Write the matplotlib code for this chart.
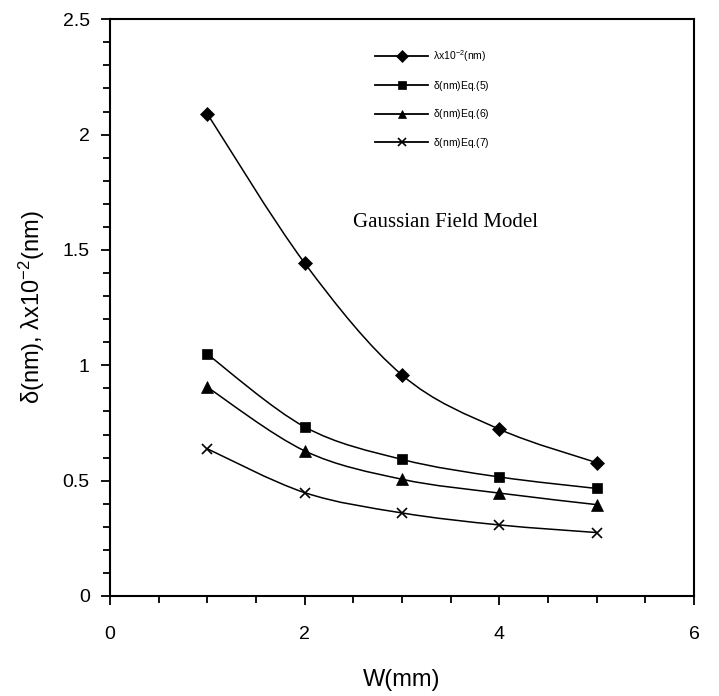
import numpy as np
import matplotlib
matplotlib.use("Agg")
import matplotlib.pyplot as plt
from matplotlib.path import Path
from matplotlib.patches import PathPatch
from matplotlib.lines import Line2D
from matplotlib.ticker import MultipleLocator, FuncFormatter

#---------- Data ----------#

w_mm = [1, 2, 3, 4, 5]
lam = [2.09, 1.443, 0.958, 0.723, 0.578]
delta_eq5 = [1.048, 0.733, 0.592, 0.516, 0.466]
delta_eq6 = [0.905, 0.629, 0.506, 0.446, 0.396]
delta_eq7 = [0.638, 0.448, 0.360, 0.308, 0.275]

labels = [r'$\lambda$x10$^{-2}$(nm)', r'$\delta$(nm)Eq.(5)',
          r'$\delta$(nm)Eq.(6)', r'$\delta$(nm)Eq.(7)']

plt.rcParams['font.family'] = ['Liberation Sans', 'DejaVu Sans']
plt.rcParams['mathtext.fontset'] = 'custom'
plt.rcParams['mathtext.rm'] = 'Liberation Sans'
plt.rcParams['mathtext.it'] = 'Liberation Sans'


def smooth_path(x, y):
    # bezier segments through the points (catmull-rom style control points)
    pts = np.column_stack([x, y]).astype(float)
    n = len(pts)
    verts = [pts[0]]
    codes = [Path.MOVETO]
    for i in range(n - 1):
        p0 = pts[max(i - 1, 0)]
        p1 = pts[i]
        p2 = pts[i + 1]
        p3 = pts[min(i + 2, n - 1)]
        c1 = p1 + (p2 - p0) / 6.0
        c2 = p2 - (p3 - p1) / 6.0
        verts += [c1, c2, p2]
        codes += [Path.CURVE4] * 3
    return Path(verts, codes)


fig = plt.figure(figsize=(7.19, 6.96), dpi=100)
ax = fig.add_axes([0.153, 0.1437, 0.8122, 0.8286])

series = [(lam, 'D', 7.5), (delta_eq5, 's', 7.5), (delta_eq6, '^', 8.5), (delta_eq7, 'x', 7)]
handles = []
for (vals, mk, ms), lab in zip(series, labels):
    mew = 1.2 if mk == 'x' else 0.5
    ax.add_patch(PathPatch(smooth_path(w_mm, vals), facecolor='none',
                           edgecolor='black', lw=1.1))
    ax.plot(w_mm, vals, linestyle='none', marker=mk, markersize=ms,
            color='black', markeredgewidth=mew)
    handles.append(Line2D([], [], color='black', lw=1.3, marker=mk,
                          markersize=ms * 0.75, markeredgewidth=mew))

ax.set_xlim(0, 6)
ax.set_ylim(0, 2.5)
ax.xaxis.set_major_locator(MultipleLocator(2))
ax.xaxis.set_minor_locator(MultipleLocator(0.5))
ax.yaxis.set_major_locator(MultipleLocator(0.5))
ax.yaxis.set_minor_locator(MultipleLocator(0.1))
ax.xaxis.set_major_formatter(FuncFormatter(lambda v, p: '%g' % v))
ax.yaxis.set_major_formatter(FuncFormatter(lambda v, p: '%g' % v))

for s in ax.spines.values():
    s.set_linewidth(1.5)
ax.tick_params(which='major', direction='out', length=6.5, width=1.3, labelsize=14)
ax.tick_params(which='minor', direction='out', length=5, width=1.3)
ax.tick_params(axis='x', which='major', pad=15)
ax.tick_params(axis='y', which='major', pad=8)

ax.set_xlabel('W(mm)', fontsize=17, labelpad=19)
ax.set_ylabel(r'$\delta$(nm), $\lambda$x10$^{-2}$(nm)', fontsize=17, labelpad=11)

ax.text(3.45, 1.62, 'Gaussian Field Model', fontsize=15,
        family=['Liberation Serif', 'DejaVu Serif'], ha='center', va='center')

leg = ax.legend(handles, labels, loc='upper left', bbox_to_anchor=(0.438, 0.966),
                frameon=False, fontsize=7.5, handlelength=5.1, labelspacing=1.4,
                handletextpad=0.5)

fig.savefig('out.png', dpi=100)
